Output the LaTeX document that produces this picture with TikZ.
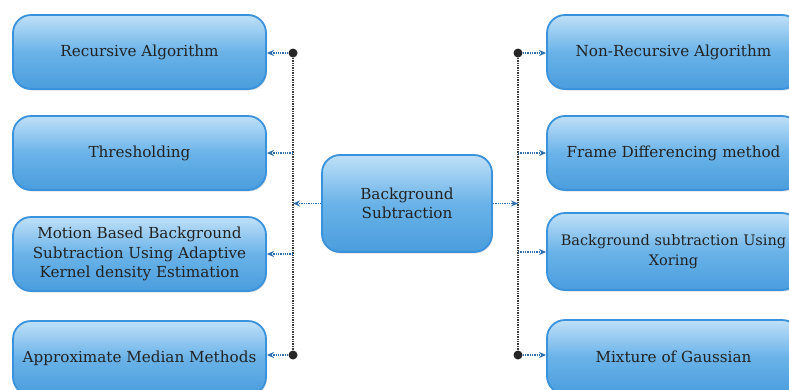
\documentclass[tikz,border=0pt]{standalone}
\usepackage{fontspec}
\setmainfont{DejaVu Serif}
\usetikzlibrary{arrows.meta,shadows}
\definecolor{boxtop}{HTML}{BFE0F8}
\definecolor{boxmid}{HTML}{6AB3E8}
\definecolor{boxbot}{HTML}{4A9DDE}
\definecolor{boxedge}{HTML}{3A92DC}
\definecolor{arrowblue}{HTML}{2F6FAE}
\definecolor{busgray}{HTML}{3A3A3A}
\definecolor{txt}{HTML}{222222}
\tikzset{
  boxstyle/.style={rectangle, rounded corners=18pt, draw=boxedge, line width=1.8pt,
    top color=boxtop, bottom color=boxbot, middle color=boxmid,
    minimum width=253pt, minimum height=74pt, align=center, text=txt,
    font=\fontsize{15.2}{19.5}\selectfont, inner sep=1pt,
    drop shadow={shadow xshift=1pt, shadow yshift=-1.5pt, opacity=0.25}},
  conn/.style={arrowblue, densely dotted, line width=1.3pt, -{Stealth[length=7pt,width=6pt]}},
  bus/.style={busgray, densely dotted, line width=1.4pt},
  busdot/.style={circle, fill=black!85, inner sep=0pt, minimum size=9pt}
}
\begin{document}
\begin{tikzpicture}[x=1pt,y=-1pt]
\useasboundingbox (0,0) rectangle (789,389);
% left boxes
\node[boxstyle] (l1) at (139.5,52) {Recursive Algorithm};
\node[boxstyle] (l2) at (139.5,153) {Thresholding};
\node[boxstyle] (l3) at (139.5,254) {Motion Based Background\\Subtraction Using Adaptive\\Kernel density Estimation};
\node[boxstyle] (l4) at (139.5,358) {Approximate Median Methods};
% right boxes
\node[boxstyle] (r1) at (673.5,52) {Non-Recursive Algorithm};
\node[boxstyle] (r2) at (673.5,153) {Frame Differencing method};
\node[boxstyle, minimum height=77pt, font=\fontsize{14.5}{19.5}\selectfont] (r3) at (673.5,251.5) {Background subtraction Using\\Xoring};
\node[boxstyle] (r4) at (673.5,357) {Mixture of Gaussian};
% center
\node[boxstyle, minimum width=170pt, minimum height=97pt] (c) at (407,203.5) {Background\\Subtraction};
% buses
\coordinate (lb1) at (293,53);
\coordinate (lb2) at (293,153);
\coordinate (lbc) at (293,203.5);
\coordinate (lb3) at (293,254);
\coordinate (lb4) at (293,355);
\coordinate (rb1) at (518,53);
\coordinate (rb2) at (518,153);
\coordinate (rbc) at (518,203.5);
\coordinate (rb3) at (518,252);
\coordinate (rb4) at (518,355);
\draw[bus] (lb1) -- (lb4);
\draw[bus] (rb1) -- (rb4);
\node[busdot] (dl1) at (lb1) {};
\node[busdot] (dl4) at (lb4) {};
\node[busdot] (dr1) at (rb1) {};
\node[busdot] (dr4) at (rb4) {};
% connectors
\draw[conn] (dl1) -- (l1.east |- lb1);
\draw[conn] (lb2) -- (l2.east |- lb2);
\draw[conn] (lb3) -- (l3.east |- lb3);
\draw[conn] (dl4) -- (l4.east |- lb4);
\draw[conn] (c.west |- lbc) -- (lbc);
\draw[conn] (c.east |- rbc) -- (rbc);
\draw[conn] (dr1) -- (r1.west |- rb1);
\draw[conn] (rb2) -- (r2.west |- rb2);
\draw[conn] (rb3) -- (r3.west |- rb3);
\draw[conn] (dr4) -- (r4.west |- rb4);
\end{tikzpicture}
\end{document}
